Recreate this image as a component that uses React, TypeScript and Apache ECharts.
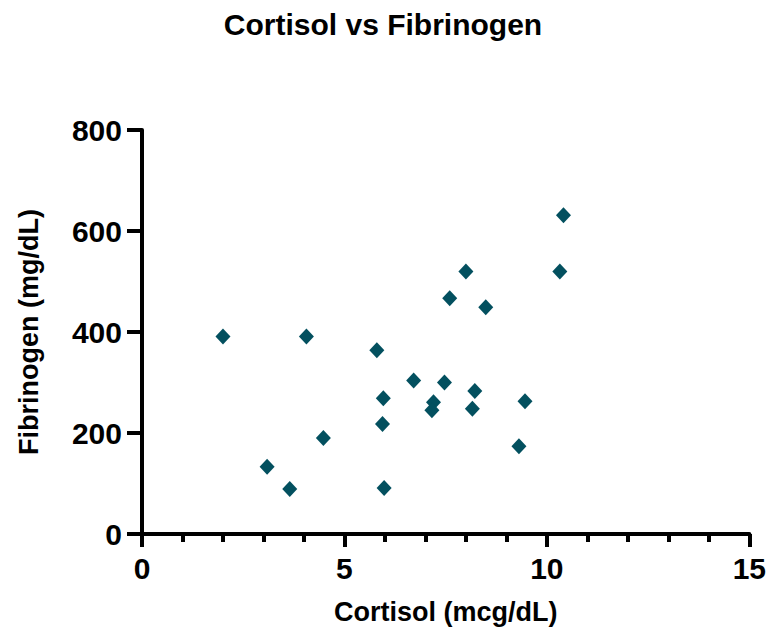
import React, { useEffect, useRef } from "react";
import * as echarts from "echarts";

const cortisol = [2.0, 3.09, 3.65, 4.06, 4.48, 5.8, 5.96, 5.94, 5.98, 6.71, 7.2, 7.16, 7.47, 7.6, 8.0, 8.22, 8.16, 8.49, 9.31, 9.46, 10.32, 10.41];
const fibrinogen = [391, 133, 89, 391, 190, 364, 269, 218, 91, 304, 261, 245, 300, 467, 520, 283, 248, 449, 174, 263, 520, 631];

const FONT = "'Liberation Sans', Arial, sans-serif";

export default function App() {
  const ref = useRef<HTMLDivElement>(null);
  useEffect(() => {
    const chart = echarts.init(ref.current!, null, { renderer: "svg" });
    const data = cortisol.map((x, i) => [x, fibrinogen[i]]);
    chart.setOption({
      animation: false,
      backgroundColor: "#ffffff",
      title: {
        text: "Cortisol vs Fibrinogen",
        left: 378,
        top: 4,
        textAlign: "center",
        textStyle: { fontFamily: FONT, fontWeight: "bold", fontSize: 30, color: "#000" },
      },
      grid: { left: 142, right: 17, top: 130, bottom: 107 },
      xAxis: {
        type: "value",
        min: 0,
        max: 15,
        interval: 5,
        name: "Cortisol (mcg/dL)",
        nameLocation: "middle",
        nameGap: 64,
        nameTextStyle: { fontFamily: FONT, fontWeight: "bold", fontSize: 27, color: "#000" },
        axisLine: { show: true, lineStyle: { color: "#000", width: 4 } },
        axisTick: { show: true, length: 13, lineStyle: { color: "#000", width: 4 } },
        minorTick: { show: true, splitNumber: 5, length: 8, lineStyle: { color: "#000", width: 4 } },
        splitLine: { show: false },
        axisLabel: { margin: 19, fontFamily: FONT, fontWeight: "bold", fontSize: 30, color: "#000" },
      },
      yAxis: {
        type: "value",
        min: 0,
        max: 800,
        interval: 200,
        name: "Fibrinogen (mg/dL)",
        nameLocation: "middle",
        nameGap: 100,
        nameTextStyle: { fontFamily: FONT, fontWeight: "bold", fontSize: 27, color: "#000" },
        axisLine: { show: true, lineStyle: { color: "#000", width: 4 } },
        axisTick: { show: true, length: 15, lineStyle: { color: "#000", width: 4 } },
        splitLine: { show: false },
        axisLabel: { margin: 20, fontFamily: FONT, fontWeight: "bold", fontSize: 30, color: "#000" },
      },
      series: [
        {
          type: "scatter",
          data,
          symbol: "diamond",
          symbolSize: [15, 16],
          itemStyle: { color: "#03505f", opacity: 1 },
        },
      ],
    });
    return () => chart.dispose();
  }, []);
  return <div ref={ref} style={{ width: 769, height: 641, position: "absolute", left: 0, top: 0 }} />;
}
